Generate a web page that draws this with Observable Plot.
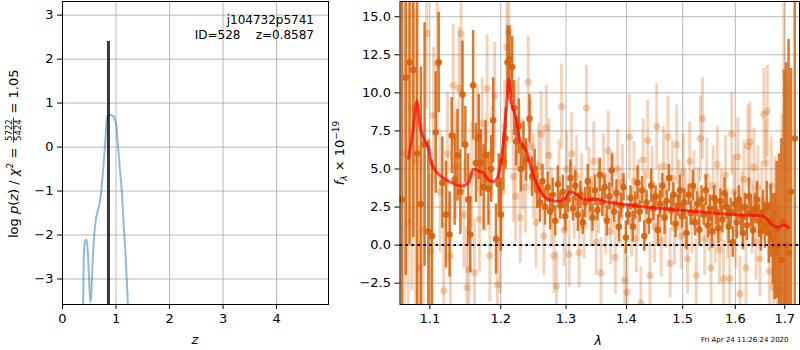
<!DOCTYPE html>
<html>
<head>
<meta charset="utf-8">
<script src="https://cdn.jsdelivr.net/npm/d3@7"></script>
<script src="https://cdn.jsdelivr.net/npm/@observablehq/plot@0.6"></script>
<style>
  html, body { margin: 0; padding: 0; background: white; }
  #fig { position: relative; width: 800px; height: 350px; overflow: hidden; font-family: "DejaVu Sans", sans-serif; }
  #fig svg { position: absolute; top: 0; }
</style>
</head>
<body>
<div id="fig"></div>
<script>
// ---------------- Left panel: log p(z) ----------------
const zTicks = [0, 1, 2, 3, 4];
const lpTicks = [-3, -2, -1, 0, 1, 2, 3];
const pzZ = [0.384,0.386,0.395,0.405,0.42,0.437,0.452,0.467,0.482,0.497,0.512,0.523,0.535,0.55,0.568,0.585,0.604,0.63,0.66,0.69,0.715,0.74,0.76,0.78,0.8,0.816,0.83,0.845,0.865,0.9,0.935,0.96,0.985,1.005,1.02,1.035,1.053,1.075,1.095,1.115,1.135,1.155,1.178,1.2,1.222];
const pzLogp = [-3.58,-3.5,-2.7,-2.3,-2.15,-2.1,-2.13,-2.3,-2.6,-3.0,-3.4,-3.53,-3.4,-3.0,-2.5,-2.15,-1.85,-1.6,-1.45,-1.3,-1.1,-0.8,-0.5,-0.2,0.15,0.45,0.62,0.71,0.73,0.73,0.71,0.68,0.6,0.5,0.25,0.05,-0.2,-0.55,-0.8,-1.15,-1.6,-2.0,-2.45,-3.0,-3.58];
const zBest = [0.8587];
const zBestTop = 2.4;
const objName = "j104732p5741";
const objInfo = "ID=528    z=0.8587";

// ---------------- Right panel: spectrum ----------------
const lamTicks = [1.1, 1.2, 1.3, 1.4, 1.5, 1.6, 1.7];
const fluxTicks = [-2.5, 0, 2.5, 5, 7.5, 10, 12.5, 15];

const darkWave = [1.063,1.068,1.073,1.078,1.083,1.088,1.093,1.098,
 1.103,1.108,1.112,1.117,1.122,1.127,1.130,1.134,1.138,1.142,
 1.145,1.149,1.153,1.156,1.160,1.164,1.168,1.171,1.175,1.178,
 1.182,1.186,1.189,1.193,1.197,1.200,1.204,1.207,1.210,1.213,
 1.217,1.220,1.223,1.227,1.230,1.234,1.238,1.243,1.247,1.251,
 1.255,1.259,1.263,1.267,1.271,1.275,1.279,1.283,1.287,1.291,
 1.295,1.299,1.303,1.307,1.311,1.315,1.319,1.323,1.327,1.331,
 1.335,1.339,1.343,1.347,1.351,1.355,1.359,1.363,1.367,1.371,
 1.375,1.379,1.383,1.387,1.391,1.395,1.399,1.403,1.407,1.411,
 1.415,1.419,1.423,1.427,1.431,1.435,1.439,1.443,1.447,1.451,
 1.455,1.459,1.463,1.467,1.471,1.475,1.479,1.483,1.487,1.491,
 1.495,1.499,1.503,1.507,1.511,1.515,1.519,1.523,1.527,1.531,
 1.535,1.539,1.543,1.547,1.551,1.555,1.559,1.563,1.567,1.571,
 1.575,1.579,1.583,1.587,1.591,1.595,1.599,1.603,1.607,1.611,
 1.615,1.619,1.623,1.627,1.631,1.635,1.639,1.643,1.647,1.651,
 1.655,1.659,1.663,1.667,1.671,1.675,1.679,1.683,1.688,1.693,
 1.698,1.703,1.708,1.713,1.721];
const darkFlux = [3.0,11.0,12.0,11.5,6.0,2.7,6.6,0.9,
 0.6,7.4,12.0,4.1,2.0,0.7,7.2,4.3,5.9,3.5,
 9.9,6.6,3.0,0.7,10.5,5.4,7.1,5.4,3.8,5.9,
 3.7,5.0,8.2,0.4,4.0,2.0,5.5,7.0,12.0,12.2,
 11.7,9.0,6.8,7.8,5.0,6.5,5.6,8.3,4.5,5.0,
 3.6,2.8,4.2,2.5,3.8,2.2,3.3,1.6,4.0,2.6,
 3.5,1.9,3.0,4.4,2.4,3.9,2.0,3.3,1.5,2.8,
 4.2,3.0,1.8,3.6,2.3,4.6,2.8,3.8,1.6,3.2,
 4.9,2.2,3.4,1.2,2.6,3.8,0.5,2.0,3.1,1.2,
 2.6,4.1,2.2,3.6,0.6,2.8,1.6,3.9,2.4,3.2,
 1.0,2.7,3.9,1.8,2.9,4.4,2.3,3.3,1.4,2.6,
 3.6,1.9,2.8,0.8,3.3,2.1,3.9,1.5,2.7,1.0,
 3.0,2.0,3.6,1.3,2.4,0.9,3.1,2.2,1.1,2.9,
 1.7,3.4,2.5,1.2,2.2,0.2,2.7,1.5,3.0,1.9,
 0.8,2.5,1.3,3.2,2.1,1.0,2.4,3.0,1.6,0.9,
 2.2,1.3,2.5,0.8,1.6,0.4,-0.1,1.0,0.0,-1.0,
 1.5,0.0,-0.5,3.5,7.0];
const darkErr = [14,13,12,11,10,9,8,6,
 5,4,3.3,3,3.5,2.8,2.5,3,3,2.8,
 3.5,2.5,3,2.5,3.6,2.6,2.8,2.2,2.8,2.3,
 2.4,2.2,2.8,2.3,2.0,2.4,1.9,2.0,2.4,2.2,
 2.0,1.8,1.6,1.8,1.5,1.6,1.4,1.6,1.3,1.3,
 1.2,1.3,1.1,1.2,1.0,1.2,1.1,1.0,1.2,0.9,
 1.1,1.0,0.9,1.2,0.8,1.0,1.1,0.9,0.8,1.0,
 1.1,0.8,0.9,1.0,0.7,1.1,0.9,0.8,1.0,0.9,
 1.1,0.7,0.9,1.0,0.8,0.9,1.1,0.7,0.8,1.0,
 0.9,1.1,0.7,0.9,1.0,0.8,0.9,1.1,0.8,0.7,
 1.0,0.9,0.8,1.1,0.7,0.9,1.0,0.8,0.9,0.7,
 1.0,0.8,0.9,1.1,0.7,0.8,1.0,0.9,0.8,1.0,
 0.9,0.7,1.0,0.8,0.9,1.1,0.8,0.9,1.0,0.8,
 0.9,1.0,0.8,1.1,0.9,1.0,0.8,1.1,0.9,1.0,
 1.1,0.9,1.0,1.2,0.9,1.1,1.0,1.2,1.1,1.3,
 1.4,1.5,1.7,2.0,2.4,3,3.5,4.5,6,8,
 10,12,14,8.1,14];

const lightWave = [1.066,1.071,1.076,1.081,1.086,1.091,1.096,1.101,1.105,1.110,
 1.114,1.119,1.124,1.128,1.132,1.136,1.140,1.143,1.147,1.151,
 1.154,1.158,1.162,1.166,1.169,1.173,1.177,1.180,1.184,1.187,
 1.191,1.195,1.199,1.202,1.206,1.209,1.212,1.216,1.219,1.222,
 1.226,1.229,1.233,1.237,1.241,1.245,1.249,1.253,1.257,1.261,
 1.265,1.269,1.273,1.277,1.281,1.285,1.289,1.293,1.297,1.301,
 1.305,1.309,1.313,1.317,1.321,1.325,1.329,1.333,1.337,1.341,
 1.345,1.349,1.353,1.357,1.361,1.365,1.369,1.373,1.377,1.381,
 1.385,1.389,1.393,1.397,1.401,1.405,1.409,1.413,1.417,1.421,
 1.425,1.429,1.433,1.437,1.441,1.445,1.449,1.453,1.457,1.461,
 1.465,1.469,1.473,1.477,1.481,1.485,1.489,1.493,1.497,1.501,
 1.505,1.509,1.513,1.517,1.521,1.525,1.529,1.533,1.537,1.541,
 1.545,1.549,1.553,1.557,1.561,1.565,1.569,1.573,1.577,1.581,
 1.585,1.589,1.593,1.597,1.601,1.605,1.609,1.613,1.617,1.621,
 1.625,1.629,1.633,1.637,1.641,1.645,1.649,1.653,1.657,1.661,
 1.664,1.668,1.672,1.676,1.680,1.684,1.689,1.694,1.698,1.705];
const lightFlux = [6.0,1.5,9.0,5.5,-1.5,1.0,13.9,-0.4,8.5,11.9,
 3.5,-3.0,6.0,-0.7,10.5,5.2,10.3,13.9,2.0,-2.8,
 -1.6,4.6,-1.8,7.0,1.7,8.0,4.4,10.3,-0.7,6.1,
 9.8,-2.6,0.3,3.5,7.8,13.0,14.0,9.5,4.5,3.2,
 8.0,1.8,5.3,3.8,10.7,6.5,4.5,1.5,5.2,7.3,
 0.6,7.7,5.9,2.5,-0.7,-2.7,4.3,9.1,1.0,5.0,
 -0.6,6.0,2.8,4.6,-0.5,3.5,1.3,9.0,4.0,2.2,
 5.5,0.2,3.2,-1.8,4.6,1.8,6.2,0.9,3.6,-0.8,
 5.0,2.4,4.1,-2.3,-3.1,7.1,1.5,4.2,0.4,3.1,
 -3.8,5.6,2.6,6.9,-2.0,4.0,1.2,7.8,3.0,0.3,
 5.2,2.0,7.1,-1.2,4.4,1.1,6.6,3.3,0.6,4.8,
 2.2,-0.9,5.5,1.6,3.7,-2.0,2.8,7.0,8.3,0.4,
 4.5,1.9,-1.5,3.9,1.0,5.3,-0.3,2.6,-2.2,4.6,
 1.4,-2.2,7.3,3.5,0.8,5.8,-3.2,2.4,4.3,-1.5,
 6.5,6.8,1.8,5.1,0.2,3.8,-0.9,2.9,8.6,5.4,
 8.8,-1.7,3.9,-2.8,2.0,-0.5,-3.0,1.6,25,3.0];
const lightErr = [15,14,12,10,8,7,5,5,4.5,4.5,
 4,4.5,4,4,4,3.5,4,4,3.5,4,
 3.5,3.5,3.5,3.5,3.5,3,3.5,3.5,3,3,
 3.5,3,3.5,3,3,3,3,2.8,3,3,
 3,3,3,3,3,3,2.8,3,2.8,2.8,
 2.6,2.8,2.4,2.6,2.5,2.3,2.6,2.8,2.4,2.5,
 2.2,2.7,2.4,2.6,2.3,2.5,2.2,2.8,2.4,2.3,
 2.6,2.2,2.5,2.3,2.7,2.4,2.6,2.2,2.5,2.4,
 2.6,2.3,2.5,2.2,2.4,2.8,2.3,2.6,2.2,2.5,
 2.4,2.7,2.3,2.6,2.2,2.5,2.4,2.8,2.3,2.4,
 2.6,2.2,2.7,2.3,2.5,2.4,2.6,2.3,2.2,2.5,
 2.4,2.3,2.6,2.2,2.5,2.4,2.3,2.8,2.7,2.4,
 2.5,2.3,2.4,2.6,2.2,2.5,2.3,2.4,2.5,2.6,
 2.3,2.5,2.7,2.4,2.3,2.6,2.5,2.4,2.6,2.5,
 2.7,2.6,2.4,2.6,2.5,2.7,2.5,2.6,3.0,2.9,
 3.0,3.0,3.2,3.5,3.8,4.5,5.5,7,13.7,8];

const modelWave = [1.0716,1.0760,1.0800,1.0826,1.0850,1.0871,1.0930,1.0983,1.1027,1.1117,1.1255,1.1440,1.1530,1.1606,1.1677,1.1746,1.1818,1.1912,1.1967,1.2005,1.2040,1.2070,1.2098,1.2120,1.2140,1.2160,1.2185,1.2226,1.2271,1.2316,1.2384,1.2452,1.2544,1.2683,1.2824,1.2919,1.2990,1.3062,1.3158,1.3256,1.3378,1.3533,1.3645,1.4178,1.4772,1.5330,1.5710,1.6100,1.6540,1.6637,1.6740,1.6870,1.6980,1.7080];
const modelFlux = [5.7,7.0,8.6,9.47,8.8,7.72,6.9,6.4,5.3,4.65,4.2,3.88,4.1,4.97,4.87,4.75,4.3,4.2,4.65,5.5,6.8,8.3,9.8,10.9,10.2,9.3,8.9,8.4,7.1,6.6,6.2,5.1,4.0,3.1,2.9,2.9,3.1,3.5,3.35,3.05,3.0,3.0,2.85,2.57,2.35,2.19,2.06,1.97,1.91,1.69,1.32,1.18,1.32,1.14];
const stampText = "Fri Apr 24 11:26:24 2020";

// ---------------- build ----------------
const GRID = "#b0b0b0";
const ORANGE = "#d5620b";
const FONT = "DejaVu Sans";
const Y2 = [-3.9, 16];
const clamp = v => Math.max(Y2[0], Math.min(Y2[1], v));
const inY = d => d.f >= Y2[0] && d.f <= Y2[1];

const pzRows = pzZ.map((z, i) => ({z, v: pzLogp[i]}));
const darkRows = darkWave.map((w, i) => ({w, f: darkFlux[i], e: darkErr[i]}));
const lightRows = lightWave.map((w, i) => ({w, f: lightFlux[i], e: lightErr[i]}));
const modelRows = modelWave.map((w, i) => ({w, f: modelFlux[i]}));

const baseStyle = {fontFamily: FONT, fontSize: "13px", background: "transparent", color: "black", overflow: "visible"};

const left = Plot.plot({
  width: 340, height: 350,
  marginLeft: 62, marginRight: 12, marginTop: 1, marginBottom: 46,
  style: baseStyle,
  x: {domain: [0, 4.97], ticks: zTicks, tickFormat: d3.format("d"), tickSize: 5, tickPadding: 4, label: null},
  y: {domain: [-3.58, 3.31], ticks: lpTicks, tickFormat: d3.format("d"), tickSize: 5, tickPadding: 4, label: null},
  marks: [
    Plot.ruleX(zTicks, {stroke: GRID, strokeWidth: 0.9}),
    Plot.ruleY(lpTicks, {stroke: GRID, strokeWidth: 0.9}),
    Plot.line(pzRows, {x: "z", y: "v", stroke: "#1f77b4", strokeOpacity: 0.5, strokeWidth: 2, curve: "catmull-rom", clip: true}),
    Plot.ruleX(zBest, {y1: -3.58, y2: zBestTop, stroke: "black", strokeOpacity: 0.78, strokeWidth: 3}),
    Plot.frame({stroke: "black", strokeWidth: 1})
  ]
});
left.style.left = "0px";

const right = Plot.plot({
  width: 460, height: 350,
  marginLeft: 59.5, marginRight: 1, marginTop: 1, marginBottom: 46,
  style: baseStyle,
  x: {type: "log", domain: [1.0605, 1.731], ticks: lamTicks, tickFormat: d3.format(".1f"), tickSize: 5, tickPadding: 4, label: null},
  y: {domain: Y2, ticks: fluxTicks, tickFormat: d3.format(".1f"), tickSize: 5, tickPadding: 4, label: null},
  marks: [
    Plot.ruleX(lamTicks, {stroke: GRID, strokeWidth: 0.9}),
    Plot.ruleY(fluxTicks, {stroke: GRID, strokeWidth: 0.9}),
    Plot.ruleX(lightRows, {x: "w", y1: d => clamp(d.f - d.e), y2: d => clamp(d.f + d.e), stroke: ORANGE, strokeOpacity: 0.28, strokeWidth: 3, clip: true}),
    Plot.dot(lightRows.filter(inY), {x: "w", y: "f", r: 3.6, fill: ORANGE, fillOpacity: 0.3, clip: true}),
    Plot.ruleX(darkRows, {x: "w", y1: d => clamp(d.f - d.e), y2: d => clamp(d.f + d.e), stroke: ORANGE, strokeOpacity: 0.85, strokeWidth: 2.5, clip: true}),
    Plot.dot(darkRows.filter(inY), {x: "w", y: "f", r: 3.3, fill: ORANGE, fillOpacity: 0.9, clip: true}),
    Plot.ruleY([0], {stroke: "black", strokeWidth: 2, strokeDasharray: "2.5,3.5"}),
    Plot.line(modelRows, {x: "w", y: "f", stroke: "#ff0000", strokeOpacity: 0.7, strokeWidth: 3, curve: "catmull-rom"}),
    Plot.frame({stroke: "black", strokeWidth: 1})
  ]
});
right.style.left = "340px";

const fig = document.getElementById("fig");
fig.appendChild(left);
fig.appendChild(right);

// ---------- annotations (real text) ----------
const L = d3.select(left);
const R = d3.select(right);

L.append("text").attr("x", 314).attr("y", 24).attr("text-anchor", "end")
  .style("font-family", FONT).style("font-size", "12px").attr("fill", "black").text(objName);
L.append("text").attr("x", 314).attr("y", 38.5).attr("text-anchor", "end").attr("xml:space", "preserve")
  .style("white-space", "pre").style("font-family", FONT).style("font-size", "12px").attr("fill", "black").text(objInfo);

// x label z
L.append("text").attr("x", 195).attr("y", 344).attr("text-anchor", "middle")
  .style("font-family", FONT).style("font-size", "13px").style("font-style", "italic").attr("fill", "black").text("z");

// y label with fraction
const gl = L.append("g").attr("transform", "translate(17.5,238) rotate(-90)")
  .attr("text-anchor", "start").style("font-family", FONT).attr("fill", "black");
const t1 = gl.append("text").attr("x", 0).attr("y", 0).attr("text-anchor", "start").style("font-size", "13px").attr("xml:space", "preserve").style("white-space", "pre");
t1.append("tspan").text("log ");
t1.append("tspan").style("font-style", "italic").text("p");
t1.append("tspan").text("(");
t1.append("tspan").style("font-style", "italic").text("z");
t1.append("tspan").text(") / ");
t1.append("tspan").style("font-style", "italic").text("χ");
t1.append("tspan").style("font-size", "9px").attr("dy", -5).text("2");
t1.append("tspan").attr("dy", 5).text(" = ");
const len1 = t1.node().getComputedTextLength();
const fw = 25;
gl.append("text").attr("x", len1 + 1 + fw / 2).attr("y", -5.4).attr("text-anchor", "middle").style("font-size", "8.5px").text("5722");
gl.append("line").attr("x1", len1 + 1).attr("x2", len1 + 1 + fw).attr("y1", -3.9).attr("y2", -3.9).attr("stroke", "black").attr("stroke-width", 0.8);
gl.append("text").attr("x", len1 + 1 + fw / 2).attr("y", 3.4).attr("text-anchor", "middle").style("font-size", "8.5px").text("5424");
gl.append("text").attr("x", len1 + fw + 5).attr("y", 0).attr("text-anchor", "start").style("font-size", "13px").text("= 1.05");

// right x label
R.append("text").attr("x", 258).attr("y", 344.5).attr("text-anchor", "middle")
  .style("font-family", FONT).style("font-size", "13px").style("font-style", "italic").attr("fill", "black").text("λ");

// right y label
const gr = R.append("g").attr("transform", "translate(3.5,153) rotate(-90)").style("font-family", FONT).attr("fill", "black");
const t2 = gr.append("text").attr("x", 0).attr("y", 0).attr("text-anchor", "middle").style("font-size", "13px").attr("xml:space", "preserve").style("white-space", "pre");
t2.append("tspan").style("font-style", "italic").text("f");
t2.append("tspan").style("font-size", "9px").style("font-style", "italic").attr("dy", 3).text("λ");
t2.append("tspan").attr("dy", -3).text(" × 10");
t2.append("tspan").style("font-size", "9px").attr("dy", -5).text("−19");

// timestamp
R.append("text").attr("x", 361).attr("y", 342).attr("text-anchor", "start").style("font-family", FONT).style("font-size", "7px").attr("fill", "black").text(stampText);
</script>
</body>
</html>
